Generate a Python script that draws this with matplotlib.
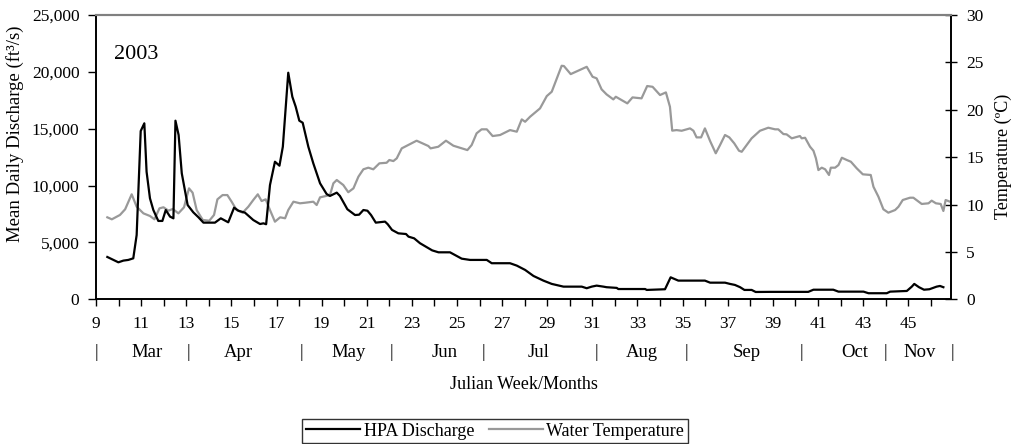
import matplotlib
matplotlib.use("Agg")
import matplotlib.pyplot as plt
from matplotlib.ticker import StrMethodFormatter, MultipleLocator

plt.rcParams["font.family"] = ["Liberation Serif", "DejaVu Serif"]

# ----------------------------
# Data
# ----------------------------

discharge_week = [9.50, 9.99, 10.21, 10.43, 10.65, 10.80, 10.98, 11.14, 11.24, 11.39,
                  11.54, 11.76, 11.94, 12.09, 12.28, 12.43, 12.52, 12.66, 12.80, 13.06,
                  13.31, 13.54, 13.76, 14.27, 14.53, 14.86, 15.12, 15.31, 15.60, 15.97,
                  16.27, 16.42, 16.54, 16.71, 16.93, 17.13, 17.28, 17.52, 17.70, 17.85,
                  18.01, 18.16, 18.41, 18.63, 18.93, 19.22, 19.37, 19.67, 19.81, 20.14,
                  20.48, 20.66, 20.85, 21.03, 21.19, 21.40, 21.81, 21.93, 22.12, 22.40,
                  22.74, 22.85, 23.10, 23.36, 23.60, 23.90, 24.18, 24.69, 25.21, 25.58,
                  26.32, 26.54, 27.35, 27.65, 28.02, 28.39, 28.83, 29.20, 29.72, 30.53,
                  30.75, 30.97, 31.19, 31.49, 31.63, 32.08, 32.15, 33.34, 33.41, 34.22,
                  34.47, 34.81, 35.99, 36.22, 36.88, 37.10, 37.32, 37.55, 37.74, 38.06,
                  38.24, 38.88, 40.57, 40.80, 41.68, 41.91, 43.02, 43.24, 44.05, 44.20,
                  44.94, 45.16, 45.27, 45.48, 45.70, 45.94, 46.26, 46.41, 46.56]

discharge_cfs = [3720, 3250, 3400, 3460, 3600, 5650, 14800, 15480, 11220, 8880,
                 7850, 6890, 6890, 7850, 7270, 7120, 15710, 14450, 11080, 8290,
                 7650, 7210, 6740, 6740, 7120, 6770, 8060, 7790, 7620, 6970,
                 6620, 6680, 6600, 10050, 12100, 11750, 13420, 19930, 17820, 16940,
                 15710, 15530, 13420, 11960, 10200, 9260, 9090, 9380, 9090, 7920,
                 7410, 7440, 7850, 7790, 7410, 6740, 6830, 6600, 6100, 5800,
                 5740, 5510, 5360, 4930, 4650, 4300, 4130, 4130, 3570, 3460,
                 3460, 3170, 3170, 2960, 2580, 2050, 1640, 1350, 1110, 1110,
                 970, 1110, 1200, 1110, 1060, 1000, 900, 900, 820, 880,
                 1930, 1640, 1640, 1460, 1460, 1350, 1260, 1060, 820, 820,
                 640, 650, 650, 840, 840, 670, 670, 530, 530, 670,
                 730, 1110, 1350, 1060, 840, 880, 1110, 1170, 1060]

temp_week = [9.50, 9.70, 10.06, 10.29, 10.58, 10.80, 11.10, 11.39, 11.59, 11.81,
             11.99, 12.21, 12.40, 12.65, 12.90, 13.12, 13.28, 13.46, 13.73, 14.02,
             14.23, 14.38, 14.61, 14.82, 15.01, 15.23, 15.50, 15.75, 15.97, 16.17,
             16.34, 16.52, 16.71, 16.93, 17.16, 17.38, 17.52, 17.75, 18.04, 18.27,
             18.63, 18.78, 18.93, 19.37, 19.52, 19.67, 19.96, 20.18, 20.41, 20.63,
             20.85, 21.07, 21.29, 21.56, 21.88, 22.00, 22.18, 22.33, 22.55, 22.92,
             23.21, 23.73, 23.83, 24.17, 24.51, 24.84, 25.21, 25.46, 25.65, 25.87,
             26.09, 26.32, 26.58, 26.91, 27.20, 27.35, 27.65, 27.87, 28.02, 28.24,
             28.68, 28.98, 29.20, 29.64, 29.74, 30.04, 30.75, 31.01, 31.19, 31.41,
             31.63, 31.93, 32.04, 32.55, 32.78, 33.18, 33.43, 33.67, 34.00, 34.26,
             34.44, 34.54, 34.73, 34.96, 35.33, 35.48, 35.62, 35.82, 35.99, 36.22,
             36.47, 36.66, 36.88, 37.07, 37.29, 37.50, 37.62, 38.06, 38.43, 38.80,
             39.10, 39.24, 39.47, 39.61, 39.84, 40.20, 40.28, 40.43, 40.65, 40.80,
             40.91, 41.02, 41.17, 41.32, 41.49, 41.57, 41.76, 41.91, 42.06, 42.28,
             42.46, 42.72, 42.99, 43.34, 43.46, 43.68, 43.90, 44.12, 44.42, 44.57,
             44.76, 45.08, 45.23, 45.60, 45.90, 46.04, 46.23, 46.44, 46.56, 46.66,
             46.85]

temp_c = [8.65, 8.44, 8.90, 9.50, 11.08, 9.77, 9.07, 8.79, 8.44, 9.60,
          9.71, 9.35, 9.53, 9.07, 9.71, 11.71, 11.25, 9.42, 8.37, 8.29,
          8.90, 10.55, 11.00, 11.00, 10.30, 9.42, 9.14, 9.77, 10.48, 11.08,
          10.37, 10.55, 9.42, 8.19, 8.65, 8.55, 9.42, 10.30, 10.13, 10.19,
          10.30, 9.95, 10.76, 11.00, 12.24, 12.59, 12.06, 11.30, 11.71, 12.94,
          13.72, 13.89, 13.72, 14.35, 14.41, 14.70, 14.59, 14.88, 15.93, 16.39,
          16.74, 16.18, 15.93, 16.10, 16.74, 16.21, 15.93, 15.75, 16.28, 17.52,
          17.94, 17.94, 17.23, 17.34, 17.69, 17.86, 17.69, 18.99, 18.74, 19.27,
          20.15, 21.45, 21.91, 24.65, 24.62, 23.77, 24.54, 23.49, 23.32, 22.16,
          21.63, 21.10, 21.38, 20.68, 21.31, 21.21, 22.51, 22.43, 21.56, 21.84,
          20.32, 17.80, 17.86, 17.79, 18.04, 17.79, 17.09, 17.09, 18.04, 16.70,
          15.41, 16.28, 17.34, 17.09, 16.46, 15.68, 15.57, 16.99, 17.79, 18.11,
          17.94, 17.94, 17.44, 17.41, 16.99, 17.23, 16.99, 17.05, 16.10, 15.68,
          14.88, 13.64, 13.89, 13.72, 13.12, 13.89, 13.89, 14.17, 14.94, 14.70,
          14.52, 13.82, 13.19, 13.12, 11.88, 10.83, 9.50, 9.14, 9.42, 9.77,
          10.48, 10.72, 10.72, 10.06, 10.13, 10.41, 10.13, 10.06, 9.32, 10.48,
          10.30]

week_ticks = list(range(9, 47, 2))
month_names = ["Mar", "Apr", "May", "Jun", "Jul", "Aug", "Sep", "Oct", "Nov"]
month_label_week = [11.24, 15.30, 20.18, 24.47, 28.60, 33.18, 37.84, 42.64, 45.52]
month_break_week = [9.0, 13.09, 18.10, 22.10, 26.17, 31.19, 35.18, 40.28, 43.97, 46.97]

# ----------------------------
# Plot
# ----------------------------

fig = plt.figure(figsize=(10.11, 4.44), dpi=100)
ax = fig.add_axes([0.095, 0.326, 0.8457, 0.640])
ax2 = ax.twinx()

l1, = ax.plot(discharge_week, discharge_cfs, color="black", lw=1.6, label="HPA Discharge")
l2, = ax2.plot(temp_week, temp_c, color="#999999", lw=1.6, label="Water Temperature")
ax.set_zorder(ax2.get_zorder() + 1)
ax.patch.set_visible(False)

ax.set_xlim(9, 46.9)
ax.set_ylim(0, 25000)
ax2.set_ylim(0, 30)

ax.set_xticks(week_ticks)
ax.xaxis.set_minor_locator(MultipleLocator(1))
ax.yaxis.set_major_locator(MultipleLocator(5000))
ax.yaxis.set_major_formatter(StrMethodFormatter("{x:,.0f}"))
ax2.yaxis.set_major_locator(MultipleLocator(5))

ax.tick_params(axis="x", which="both", direction="out", length=5, width=1, pad=7, labelsize=12.5)
ax.tick_params(axis="y", direction="out", length=6, width=1, pad=6, labelsize=12.5)
ax2.tick_params(axis="y", direction="inout", length=8, width=1, pad=7, labelsize=12.5)

for a in (ax, ax2):
    a.spines["top"].set_color("#808080")
    a.spines["top"].set_linewidth(1.5)
    for s in ("left", "right", "bottom"):
        a.spines[s].set_linewidth(1.2)

ax.text(0.021, 0.86, "2003", transform=ax.transAxes, fontsize=16, ha="left", va="center")

# month row under the week numbers
trans = ax.get_xaxis_transform()
for name, wk in zip(month_names, month_label_week):
    ax.text(wk, -0.189, name, transform=trans, ha="center", va="center", fontsize=13.5)
for wk in month_break_week:
    ax.text(wk, -0.189, "|", transform=trans, ha="center", va="center", fontsize=13)

ax.text(0.5, -0.30, "Julian Week/Months", transform=ax.transAxes,
        ha="center", va="center", fontsize=13)

fig.text(15 / 1011, 1 - 134 / 444, "Mean Daily Discharge (ft³/s)", rotation=90,
         ha="center", va="center", fontsize=13.5)
fig.text(1003 / 1011, 1 - 156 / 444, "Temperature (ºC)", rotation=90,
         ha="center", va="center", fontsize=13)

leg = fig.legend([l1, l2], ["HPA Discharge", "Water Temperature"], ncol=2,
                 loc="center", bbox_to_anchor=(495 / 1011, 1 - 431 / 444),
                 frameon=True, fancybox=False, edgecolor="black", fontsize=13,
                 handlelength=3.0, handletextpad=0.2, columnspacing=0.8,
                 borderpad=0.2, borderaxespad=0)
leg.get_frame().set_linewidth(1)

fig.savefig("out.png", dpi=100)
